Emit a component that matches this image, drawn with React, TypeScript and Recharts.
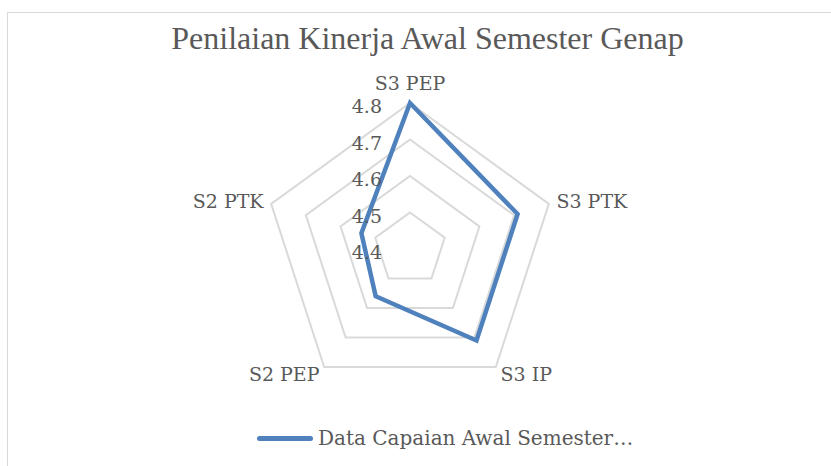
import React from 'react';
import { RadarChart, Radar, PolarGrid, PolarAngleAxis, PolarRadiusAxis } from 'recharts';

const categories = ['S3 PEP', 'S3 PTK', 'S3 IP', 'S2 PEP', 'S2 PTK'];
const capaianAwal = [4.8, 4.71, 4.71, 4.56, 4.54];
const radiusDomain = [4.4, 4.8];

const seriesName = 'Data Capaian Awal Semester Genap';

const data = categories.map((c, i) => ({ subject: c, value: capaianAwal[i] }));

const CX = 410;
const CY = 249;
const labelFont = '"DejaVu Serif", serif';
const textColor = '#595959';

const AngleTick = (props: any) => {
    const { x, y, payload, textAnchor } = props;
    let dy = 0;
    if (y < CY - 100) dy = -12; // top label sits higher
    return (
        <text x={x} y={y + dy} textAnchor={textAnchor} dominantBaseline="central"
            fontFamily={labelFont} fontSize={19} fill={textColor}>
            {payload.value}
        </text>
    );
};

const RadiusTick = (props: any) => {
    const { x, y, payload } = props;
    return (
        <text x={x - 28} y={y + 3} textAnchor="end" dominantBaseline="central"
            fontFamily={labelFont} fontSize={19} fill={textColor}>
            {Number(payload.value).toFixed(1)}
        </text>
    );
};

export default function App() {
    return (
        <div style={{ position: 'absolute', left: 0, top: 0, width: 831, height: 466, background: '#fff', overflow: 'hidden' }}>
            {/* chart frame, cut off at right and bottom */}
            <div style={{ position: 'absolute', left: 7, top: 12, width: 860, height: 480, border: '1px solid #d9d9d9' }} />
            <div style={{
                position: 'absolute', left: 0, top: 19, width: 855, textAlign: 'center',
                fontFamily: '"Liberation Serif", serif', fontSize: 32, color: textColor, lineHeight: '38px'
            }}>
                Penilaian Kinerja Awal Semester Genap
            </div>
            <div style={{ position: 'absolute', left: 0, top: 0 }}>
                <RadarChart width={831} height={466} data={data} cx={CX} cy={CY} outerRadius={146}
                    startAngle={90} endAngle={-270} margin={{ top: 0, right: 0, bottom: 0, left: 0 }}>
                    <PolarGrid gridType="polygon" radialLines={false} stroke="#d9d9d9" strokeWidth={2} />
                    <PolarAngleAxis dataKey="subject" tick={<AngleTick />} tickLine={false} axisLine={false} />
                    <PolarRadiusAxis angle={90} type="number" domain={radiusDomain as any} tickCount={5}
                        allowDecimals allowDataOverflow
                        axisLine={false} tickLine={false} tick={<RadiusTick />} />
                    <Radar name={seriesName} dataKey="value" stroke="#4f81bd" strokeWidth={4.5}
                        fill="none" fillOpacity={0} dot={false} isAnimationActive={false} />
                </RadarChart>
            </div>
            <div style={{ position: 'absolute', left: 257, top: 425, height: 26, display: 'flex', alignItems: 'center', whiteSpace: 'nowrap' }}>
                <div style={{ width: 56, height: 5, background: '#4f81bd', borderRadius: 3, marginRight: 5 }} />
                <span style={{ fontFamily: labelFont, fontSize: 20, color: textColor }}>Data Capaian Awal Semester…</span>
            </div>
        </div>
    );
}
